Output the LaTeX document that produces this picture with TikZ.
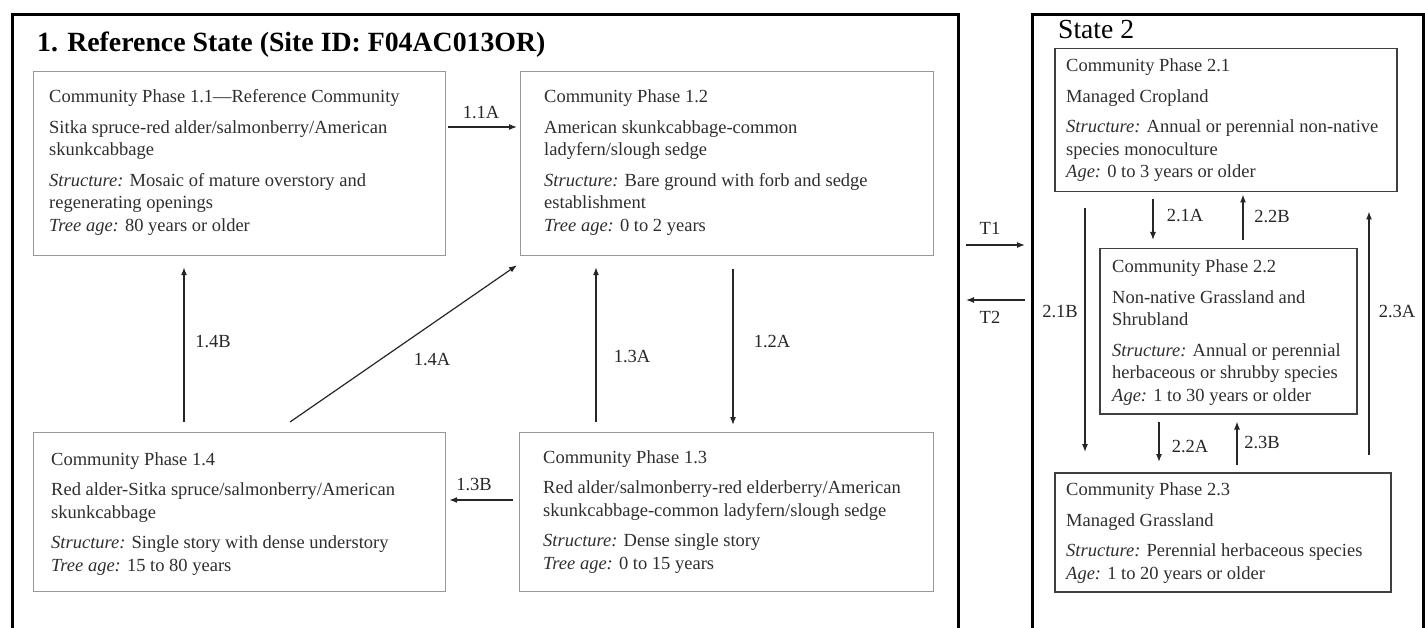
\documentclass[tikz,border=0pt]{standalone}
\usepackage{fontspec}
\setmainfont{Liberation Serif}
\usetikzlibrary{arrows.meta,calc}
\begin{document}
\begin{tikzpicture}[x=1pt,y=-1pt,
  txt/.style={anchor=base west, inner sep=0, align=left, text=black!82, font=\fontsize{18.5}{22.5}\selectfont},
  lbl/.style={inner sep=0, text=black!85, font=\fontsize{18.5}{22}\selectfont},
  boxa/.style={draw=black!40, line width=1.2pt, anchor=north west, inner sep=0},
  boxb/.style={draw=black!75, line width=1.5pt, anchor=north west, inner sep=0},
  frame/.style={draw=black, line width=3pt, anchor=north west, inner sep=0},
  arr/.style={draw=black!85, line width=1.2pt, -{Latex[length=8pt,width=6pt]}}]
\useasboundingbox (0,0) rectangle (1425,628);
% state frames
\node[frame, minimum width=946pt, minimum height=660pt] (s1) at (11,13) {};
\node[frame, minimum width=391pt, minimum height=660pt] (s2) at (1031,13) {};
\node[anchor=base west, inner sep=0, font=\bfseries\fontsize{27.8}{30}\selectfont] (t1) at (37,52) {1. Reference State (Site ID: F04AC013OR)};
\node[anchor=base west, inner sep=0, font=\fontsize{27.6}{30}\selectfont] (t2) at (1058,39) {State 2};
% boxes
\node[boxa, minimum width=412pt, minimum height=184pt] (b11) at (33,71) {};
\node[boxa, minimum width=413pt, minimum height=184pt] (b12) at (520,71) {};
\node[boxa, minimum width=412pt, minimum height=159pt] (b14) at (33,432) {};
\node[boxa, minimum width=414pt, minimum height=159pt] (b13) at (519,432) {};
\node[boxb, minimum width=342pt, minimum height=143pt] (b21) at (1054,48) {};
\node[boxb, minimum width=257pt, minimum height=165pt] (b22) at (1099,248) {};
\node[boxb, minimum width=336pt, minimum height=119pt] (b23) at (1054,472) {};
% texts (anchored at the baseline of their last line)
\node[txt] (x11) at (49,231.5) {Community Phase 1.1—Reference Community\\[8pt]
Sitka spruce-red alder/salmonberry/American\\ skunkcabbage\\[8pt]
\textit{Structure:} Mosaic of mature overstory and\\ regenerating openings\\
\textit{Tree age:} 80 years or older};
\node[txt] (x12) at (544,231.5) {Community Phase 1.2\\[8pt]
American skunkcabbage-common\\ ladyfern/slough sedge\\[8pt]
\textit{Structure:} Bare ground with forb and sedge\\ establishment\\
\textit{Tree age:} 0 to 2 years};
\node[txt] (x14) at (51,571) {Community Phase 1.4\\[8pt]
Red alder-Sitka spruce/salmonberry/American\\ skunkcabbage\\[8pt]
\textit{Structure:} Single story with dense understory\\
\textit{Tree age:} 15 to 80 years};
\node[txt] (x13) at (543,569) {Community Phase 1.3\\[8pt]
Red alder/salmonberry-red elderberry/American\\ skunkcabbage-common ladyfern/slough sedge\\[8pt]
\textit{Structure:} Dense single story\\
\textit{Tree age:} 0 to 15 years};
\node[txt] (x21) at (1066,178) {Community Phase 2.1\\[8pt]
Managed Cropland\\[8pt]
\textit{Structure:} Annual or perennial non-native\\ species monoculture\\
\textit{Age:} 0 to 3 years or older};
\node[txt] (x22) at (1112,401) {Community Phase 2.2\\[8pt]
Non-native Grassland and\\ Shrubland\\[8pt]
\textit{Structure:} Annual or perennial\\ herbaceous or shrubby species\\
\textit{Age:} 1 to 30 years or older};
\node[txt] (x23) at (1066,579) {Community Phase 2.3\\[8pt]
Managed Grassland\\[8pt]
\textit{Structure:} Perennial herbaceous species\\
\textit{Age:} 1 to 20 years or older};
% arrows state 1
\draw[arr] ($(b11.north east)+(2,56)$) -- ($(b12.north west)+(-3,56)$);
\draw[arr] ($(b12.south west)+(213,13)$) -- ($(b13.north west)+(214,-7)$);
\draw[arr] ($(b13.north west)+(77,-10)$) -- ($(b12.south west)+(76,11)$);
\draw[arr] ($(b14.north west)+(151,-10)$) -- ($(b11.south west)+(151,11)$);
\draw[arr] ($(b14.north west)+(257,-10)$) -- ($(b12.south west)+(-3,9)$);
\draw[arr] ($(b13.north west)+(-6,68)$) -- ($(b14.north east)+(3,68)$);
% transitions
\draw[arr] ($(s1.north east)+(6,232)$) -- ($(s2.north west)+(-6,232)$);
\draw[arr] ($(s2.north west)+(-6,287)$) -- ($(s1.north east)+(6,287)$);
% arrows state 2
\draw[arr] ($(b21.south west)+(99,7)$) -- ($(b22.north west)+(54,-8)$);
\draw[arr] ($(b22.north west)+(144,-8)$) -- ($(b21.south west)+(189,2)$);
\draw[arr] ($(b21.south west)+(31,16)$) -- ($(b23.north west)+(31,-20)$);
\draw[arr] ($(b23.north west)+(315,-17)$) -- ($(b21.south west)+(315,19)$);
\draw[arr] ($(b22.south west)+(60,7)$) -- ($(b23.north west)+(105,-10)$);
\draw[arr] ($(b23.north west)+(183,-7)$) -- ($(b22.south west)+(138,7)$);
% labels
\node[lbl] (l11a) at (481,113) {1.1A};
\node[lbl] (l12a) at (772,342) {1.2A};
\node[lbl] (l13a) at (632,357) {1.3A};
\node[lbl] (l14b) at (213,342) {1.4B};
\node[lbl] (l14a) at (432,360) {1.4A};
\node[lbl] (l13b) at (474,485) {1.3B};
\node[lbl] (lt1) at (990,228) {T1};
\node[lbl] (lt2) at (990,317) {T2};
\node[lbl] (l21a) at (1185,216) {2.1A};
\node[lbl] (l22b) at (1272,217) {2.2B};
\node[lbl] (l21b) at (1060,312) {2.1B};
\node[lbl] (l23a) at (1397,312) {2.3A};
\node[lbl] (l22a) at (1190,447) {2.2A};
\node[lbl] (l23b) at (1262,443) {2.3B};
\end{tikzpicture}
\end{document}
